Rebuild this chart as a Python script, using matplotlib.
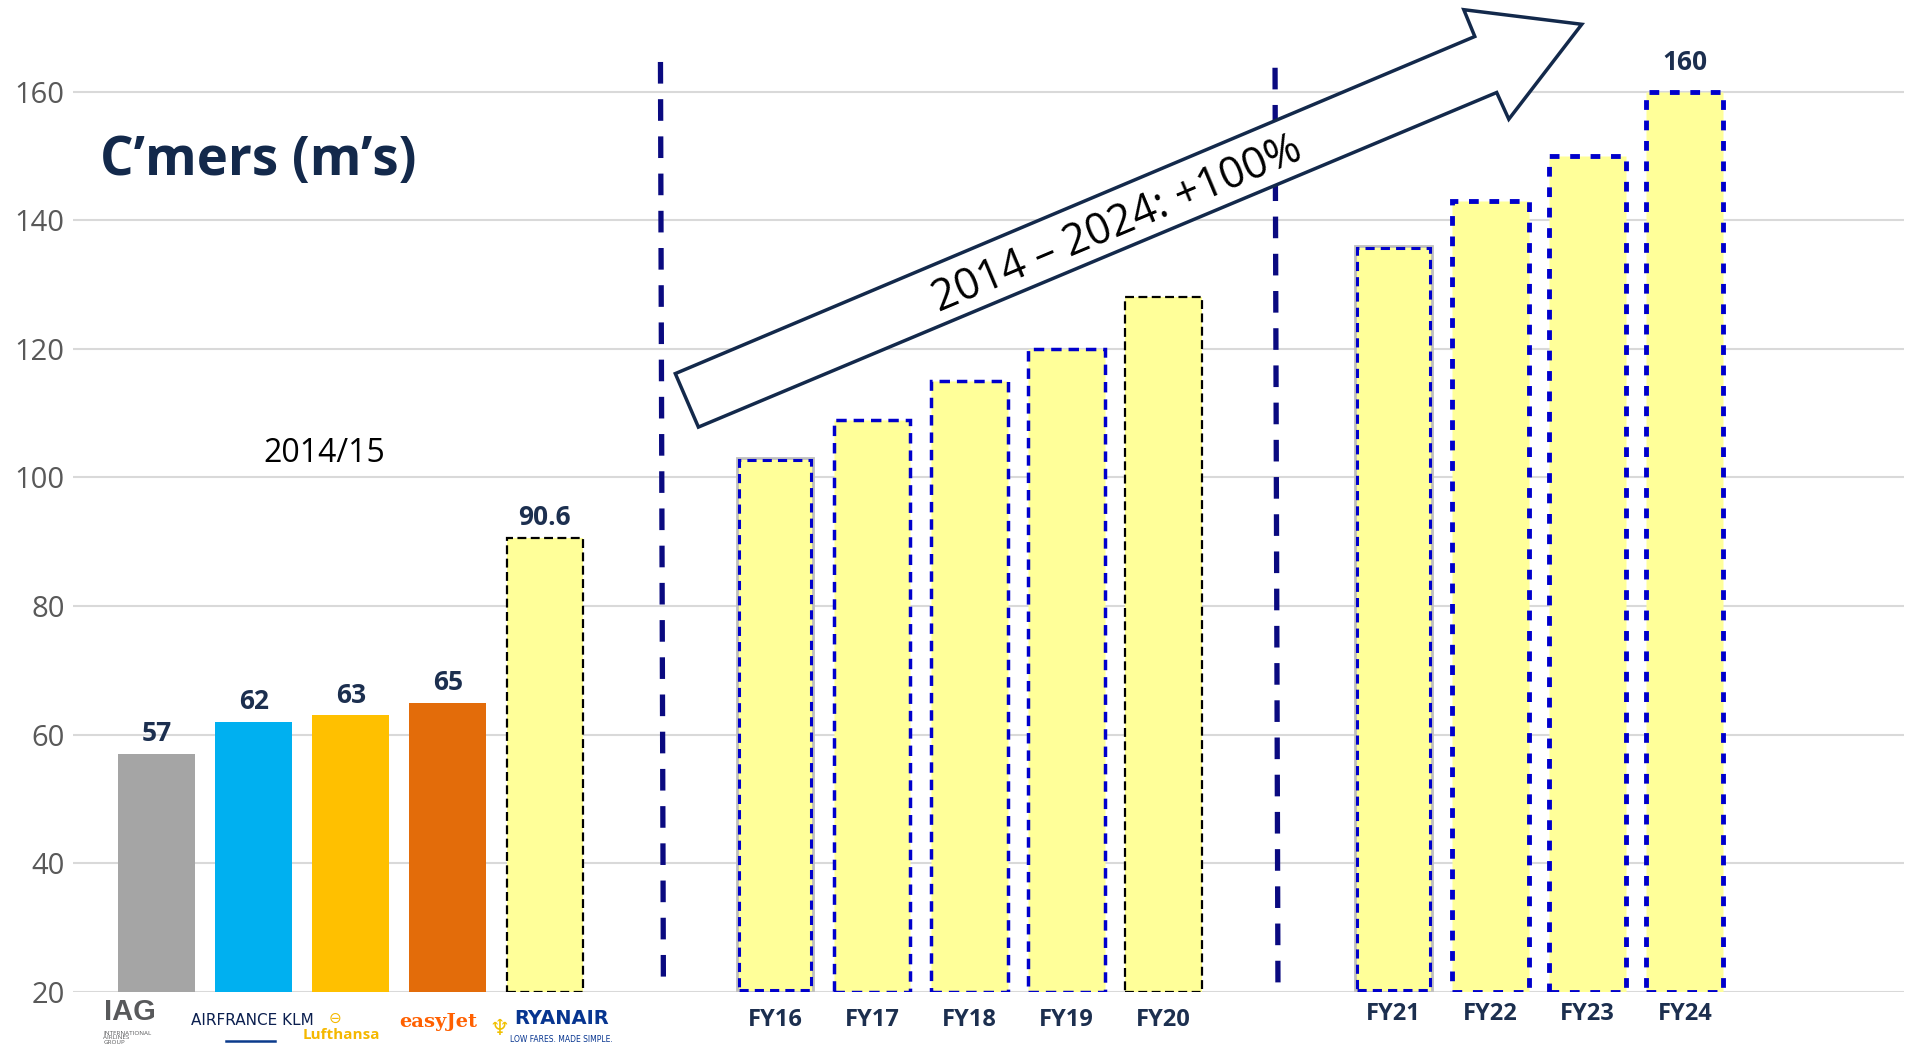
import matplotlib
matplotlib.use('Agg')
from matplotlib import pyplot as plt
from matplotlib.patches import Polygon
from matplotlib.lines import Line2D

plt.rcParams['font.family'] = ['Open Sans', 'DejaVu Sans']

# data
airlines = ['IAG', 'AF-KLM', 'Lufthansa', 'easyJet', 'Ryanair']
airline_vals = [57, 62, 63, 65, 90.6]
airline_labels = ['57', '62', '63', '65', '90.6']
fy_years = ['FY16', 'FY17', 'FY18', 'FY19', 'FY20', 'FY21', 'FY22', 'FY23', 'FY24']
fy_vals = [103, 109, 115, 120, 128, 136, 143, 150, 160]
yticks = [20, 40, 60, 80, 100, 120, 140, 160]

navy = '#1c2f4f'
fill = '#ffff99'
blue = '#0000cc'

# layout
x_air = [0, 1, 2, 3, 4]
x_fy = [6.37, 7.37, 8.37, 9.37, 10.37, 12.74, 13.74, 14.74, 15.74]
w = 0.79

fig = plt.figure(figsize=(19.08, 10.49), dpi=100)
ax = fig.add_axes([0.0383, 0.0543, 0.9597, 0.932])
ax.set_xlim(-0.86, 18.0)
ax.set_ylim(20, 172)

# bars, 2014/15
air_colors = ['#a5a5a5', '#00b0f0', '#ffc000', '#e36c0a']
ax.bar(x_air[:4], [v - 20 for v in airline_vals[:4]], bottom=20, width=w,
       color=air_colors, zorder=2)
ax.bar(x_air[4], airline_vals[4] - 20, bottom=20, width=w, color=fill,
       edgecolor='black', linestyle=(0, (4, 2)), linewidth=1.6, zorder=2)

for x, v, t in zip(x_air, airline_vals, airline_labels):
    ax.annotate(t, (x, v), xytext=(0, 5), textcoords='offset points',
                ha='center', va='bottom', fontsize=19, fontweight='bold', color=navy)

# bars, FY
for i, (x, v) in enumerate(zip(x_fy, fy_vals)):
    if i in (0, 5):
        ax.bar(x, v - 20, bottom=20, width=w, color=fill, edgecolor='#bfbfbf',
               linewidth=2, zorder=2)
        ax.bar(x, v - 20 - 0.6, bottom=20.3, width=w - 0.04, color='none',
               edgecolor=blue, linewidth=2.2, linestyle=(0, (3, 2)), zorder=3)
    elif i == 4:
        ax.bar(x, v - 20, bottom=20, width=w, color=fill, edgecolor='black',
               linewidth=1.6, linestyle=(0, (4, 2)), zorder=2)
    elif i < 4:
        ax.bar(x, v - 20, bottom=20, width=w, color=fill, edgecolor=blue,
               linewidth=2.5, linestyle=(0, (3, 2)), zorder=2)
    else:
        ax.bar(x, v - 20, bottom=20, width=w, color=fill, edgecolor=blue,
               linewidth=3.5, linestyle=(0, (2, 2.2)), zorder=2)

ax.annotate('160', (x_fy[-1], fy_vals[-1]), xytext=(0, 11), textcoords='offset points',
            ha='center', va='bottom', fontsize=19, fontweight='bold', color=navy)

# separators
ax.plot([5.19, 5.22], [164.6, 21.9], color='#0a0a80', lw=3.8,
        linestyle=(0, (4.1, 2.95)), zorder=1)
ax.plot([11.52, 11.55], [163.7, 21.0], color='#0a0a80', lw=3.8,
        linestyle=(0, (4.1, 2.95)), zorder=1)

# axes styling
ax.set_yticks(yticks)
ax.set_yticklabels([str(t) for t in yticks], fontsize=21, color='#595959')
ax.tick_params(axis='y', length=0, pad=6)
ax.set_xticks([])
ax.grid(axis='y', color='#d9d9d9', linewidth=1.5, zorder=0)
ax.set_axisbelow(True)
for s in ax.spines.values():
    s.set_visible(False)

# x labels
tr = ax.get_xaxis_transform()
for i, (x, t) in enumerate(zip(x_fy, fy_years)):
    yy = -0.0286 if i < 5 else -0.0225
    ax.text(x, yy, t, transform=tr, ha='center', va='center', fontsize=17,
            fontweight='bold', color=navy)

# airline "logos"
ax.text(-0.27, -0.02, 'IAG', transform=tr, ha='center', va='center', fontsize=21,
        fontweight='bold', color='#58595b', family=['Liberation Sans', 'DejaVu Sans'])
ax.text(-0.55, -0.047, 'INTERNATIONAL\nAIRLINES\nGROUP', transform=tr, ha='left',
        va='center', fontsize=4.5, color='#58595b', linespacing=0.9)
ax.text(0.99, -0.029, 'AIRFRANCE KLM', transform=tr, ha='center', va='center',
        fontsize=11, color='#0b1f4f', family=['DejaVu Sans'])
ax.add_line(Line2D([0.72, 1.22], [-0.05, -0.05], transform=tr, color='#0b3b8c',
                   lw=1.8, clip_on=False))
ax.text(1.84, -0.027, '⊖', transform=tr, ha='center', va='center', fontsize=11,
        color='#f5b800', family=['DejaVu Sans'])
ax.text(1.9, -0.044, 'Lufthansa', transform=tr, ha='center', va='center', fontsize=11,
        fontweight='bold', color='#f5b800')
ax.text(2.9, -0.031, 'easyJet', transform=tr, ha='center', va='center', fontsize=14,
        fontweight='bold', color='#ff6000', family=['DejaVu Serif'])
ax.text(3.53, -0.038, '♆', transform=tr, ha='center', va='center', fontsize=16,
        color='#f0c000', family=['DejaVu Sans'])
ax.text(4.17, -0.027, 'RYANAIR', transform=tr, ha='center', va='center', fontsize=14,
        fontweight='bold', color='#073590', family=['DejaVu Sans'])
ax.text(4.17, -0.049, 'LOW FARES. MADE SIMPLE.', transform=tr, ha='center', va='center',
        fontsize=5.5, color='#073590', family=['DejaVu Sans'])

# title and notes
ax.text(-0.58, 147.1, 'C’mers (m’s)', ha='left', va='baseline', fontsize=38,
        fontweight='bold', color='#13294b')
ax.text(1.73, 103.7, '2014/15', ha='center', va='center', fontsize=23, color='black')

# big growth arrow (figure pixels)
W, H = 1908, 1049
pts = [(675.3, 373.6), (1474.8, 36.5), (1463.8, 9.7), (1581.8, 24.3),
       (1508.8, 119.2), (1496.7, 92.5), (698.4, 427.1)]
arrow = Polygon([(px / W, 1 - py / H) for px, py in pts], closed=True,
                transform=fig.transFigure, facecolor='white', edgecolor='#13294b',
                linewidth=2.5, zorder=5)
fig.add_artist(arrow)
fig.text(1117 / W, 1 - 225 / H, '2014 – 2024: +100%', rotation=22.8,
         rotation_mode='anchor', ha='center', va='center', fontsize=31,
         color='black', zorder=6)

fig.savefig('out.png', dpi=100)
